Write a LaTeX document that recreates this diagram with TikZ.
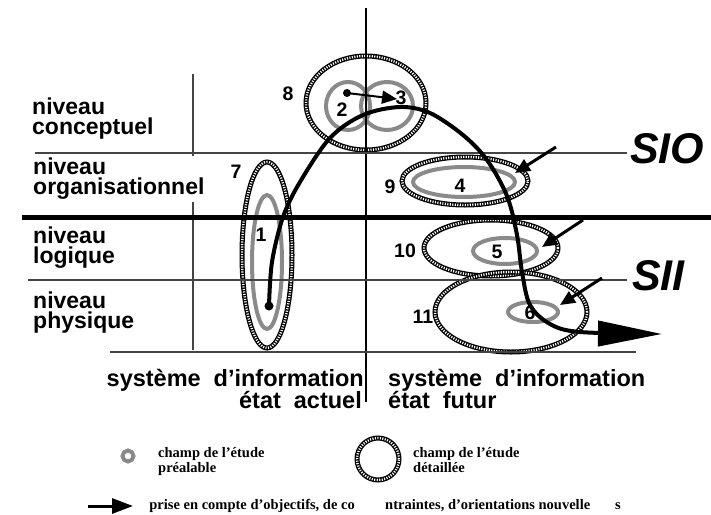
\documentclass[tikz,border=0pt]{standalone}
\usepackage{fontspec}
\setmainfont{Liberation Serif}
\setsansfont{Liberation Sans}
\usetikzlibrary{arrows.meta,shapes.geometric}
\definecolor{ringgray}{HTML}{8A8A8A}
\definecolor{linegray}{HTML}{444444}
\begin{document}
\begin{tikzpicture}[x=1pt,y=-1pt,
  hatch/.style={ellipse, draw=black, line width=5pt, inner sep=0pt, outer sep=0pt,
    postaction={draw=white, line width=2.4pt, dash pattern=on 1.1pt off 1.4pt}},
  ring/.style={ellipse, draw=ringgray, line width=4pt, inner sep=0pt, outer sep=0pt},
  thinline/.style={draw=linegray, line width=1.6pt},
  lab/.style={anchor=base west, inner sep=0pt, align=left, font=\sffamily\bfseries\fontsize{23}{20}\selectfont},
  num/.style={inner sep=0pt, font=\sffamily\bfseries\fontsize{19.5}{20}\selectfont},
  bot/.style={inner sep=0pt, font=\sffamily\bfseries\fontsize{23.5}{24}\selectfont},
  big/.style={anchor=base west, inner sep=0pt, font=\sffamily\bfseries\itshape\fontsize{43}{44}\selectfont},
  leg/.style={anchor=base west, inner sep=0pt, font=\rmfamily\bfseries\fontsize{14.5}{15}\selectfont},
  inarrow/.style={line width=3pt, -{Triangle[length=15pt,width=13pt]}},
]
\useasboundingbox (0,0) rectangle (711,514);

% ellipses
\node[hatch, minimum width=120pt, minimum height=94pt] (e8) at (366,103) {};
\node[ring, minimum width=44pt, minimum height=48pt] (r2) at (348,106) {};
\node[ring, minimum width=52pt, minimum height=48pt] (r3) at (387,106) {};
\node[hatch, minimum width=50pt, minimum height=186pt] (e7) at (267,255) {};
\node[ring, minimum width=30pt, minimum height=134pt] (r1) at (267,262) {};
\node[hatch, minimum width=126pt, minimum height=48pt] (e9) at (465,181) {};
\node[ring, minimum width=102pt, minimum height=30pt] (r4) at (464,182) {};
\node[hatch, minimum width=134pt, minimum height=56pt] (e10) at (491,248) {};
\node[ring, minimum width=64pt, minimum height=26pt] (r5) at (505,251) {};
\node[hatch, minimum width=152pt, minimum height=80pt] (e11) at (511,312) {};
\node[ring, minimum width=50pt, minimum height=20pt] (r6) at (533,312) {};

% grid lines
\draw[line width=2pt] (366,8) -- (366,402);
\draw[thinline] (193,74) -- (193,156);
\draw[thinline] (193,202) -- (193,350);
\draw[thinline] (35,153) -- (627,153);
\draw[line width=5pt] (22,217) -- (711,217);
\draw[thinline] (28,280) -- (627,280);
\draw[thinline] (110,352) -- (636,352);

% level labels (anchor = baseline of last line)
\node[lab] (l1) at (32,134) {niveau\\conceptuel};
\node[lab] (l2) at (33,194) {niveau\\organisationnel};
\node[lab] (l3) at (33,263) {niveau\\logique};
\node[lab] (l4) at (33,328) {niveau\\physique};

\node[big] (sio) at (630,163) {SIO};
\node[big] (sii) at (632,290) {SII};

% numbers
\node[num] (n8) at (288,94) {8};
\node[num] (n2) at (342,110) {2};
\node[num] (n3) at (401,98) {3};
\node[num] (n7) at (236,172) {7};
\node[num] (n1) at (261,235) {1};
\node[num] (n9) at (390,187) {9};
\node[num] (n4) at (460,186) {4};
\node[num] (n10) at (405,251) {10};
\node[num] (n5) at (497,252) {5};
\node[num] (n11) at (423,317) {11};
\node[num] (n6) at (530,313) {6};

% bottom labels
\node[bot, anchor=base east] (sa) at (364,386) {système\hspace{0.55em}d'information};
\node[bot, anchor=base east] (sb) at (362,408) {état\hspace{0.55em}actuel};
\node[bot, anchor=base west] (fa) at (388,386) {système\hspace{0.55em}d'information};
\node[bot, anchor=base west] (fb) at (388,408) {état\hspace{0.55em}futur};

% arrow 2 -> 3
\coordinate (d2) at (347,93);
\coordinate (t3) at (397,99);
\fill (d2) circle (4pt);
\draw[line width=2pt, -{Triangle[length=15pt,width=13pt]}] (d2) -- (t3);

% incoming arrows
\coordinate (s9) at (556,147); \coordinate (t9) at (515,173);
\coordinate (s10) at (583,220); \coordinate (t10) at (542,247);
\coordinate (s11) at (602,278); \coordinate (t11) at (560,305);
\draw[inarrow] (s9) -- (t9);
\draw[inarrow] (s10) -- (t10);
\draw[inarrow] (s11) -- (t11);

% main curve
\coordinate (start) at (269,306);
\coordinate (end) at (662,334);
\fill (start) circle (4.5pt);
\draw[line width=4pt, -{Triangle[length=64pt,width=25pt]}]
  plot[smooth, tension=0.55] coordinates {(269,306) (272,262) (283,217) (300,182) (330,138) (363,115) (400,107) (430,113) (463,135) (487,160) (507,196) (517,235) (522,272) (530,305) (550,324) (580,332) (662,334)};

% legend
\node[ellipse, draw=ringgray, line width=4pt, minimum size=11pt, inner sep=0pt] (lg1) at (128,456) {};
\node[leg, align=left] (lt1) at (158,472) {champ de l'étude\\préalable};
\node[hatch, minimum width=42pt, minimum height=42pt] (lg2) at (378,459) {};
\node[leg, align=left] (lt2) at (413,472) {champ de l'étude\\détaillée};
\coordinate (la) at (88,506); \coordinate (lb) at (133,506);
\draw[line width=3pt, -{Triangle[length=21pt,width=15pt]}] (la) -- (lb);
\node[leg, anchor=base east] (lt3a) at (355,509) {prise en compte d'objectifs, de co};
\node[leg] (lt3b) at (385,509) {ntraintes, d'orientations nouvelle};
\node[leg] (lt3c) at (615,509) {s};
\end{tikzpicture}
\end{document}
